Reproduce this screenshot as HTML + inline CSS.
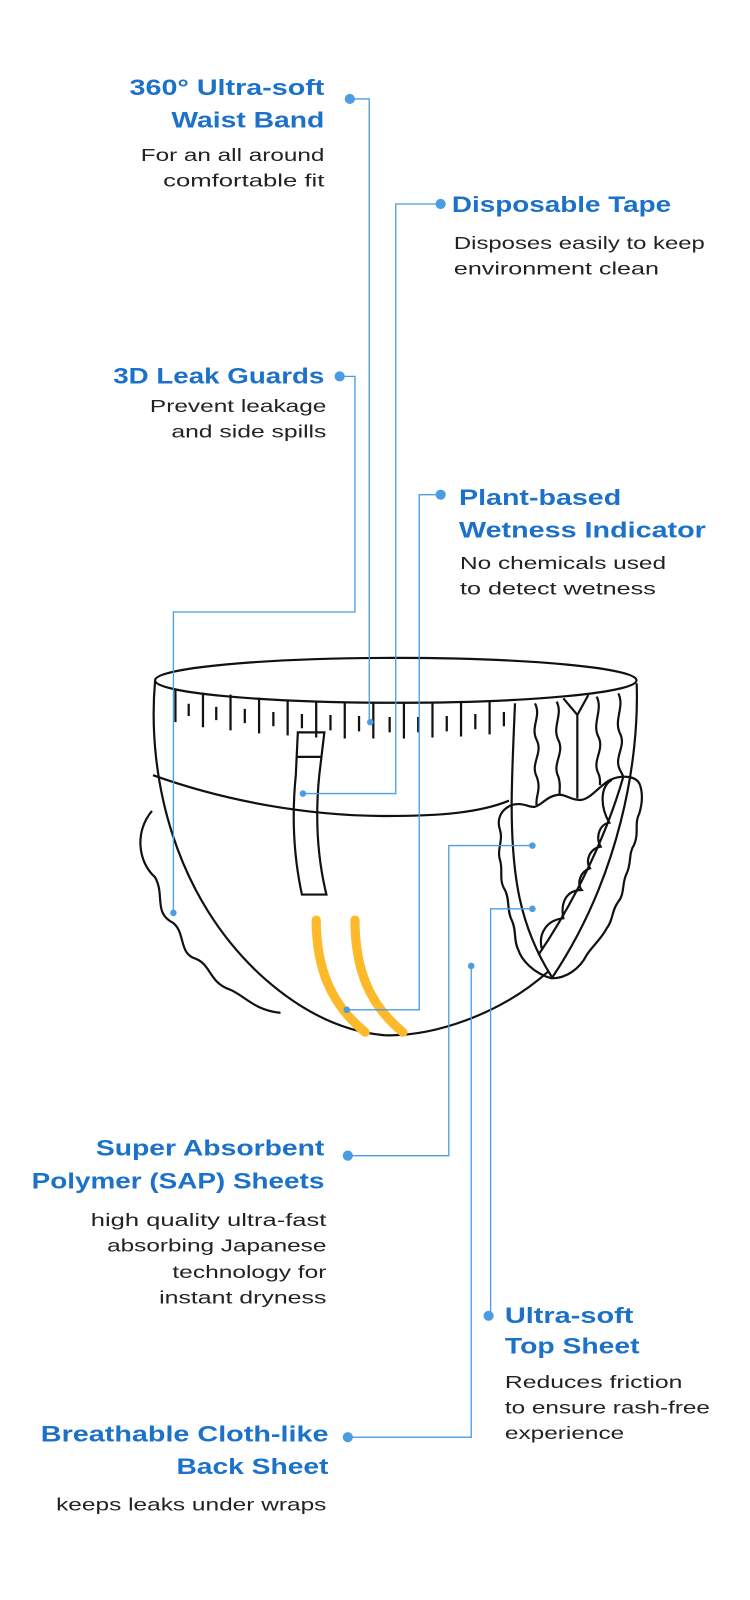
<!DOCTYPE html>
<html><head><meta charset="utf-8"><style>
html,body{margin:0;padding:0;background:#fff;width:750px;height:1600px;overflow:hidden}
svg{display:block}
.h{font-family:"Liberation Sans",sans-serif;font-weight:bold;font-size:22px;fill:#1c71c8}
.b{font-family:"Liberation Sans",sans-serif;font-size:17.5px;fill:#222}
.c{stroke:#4b9de3;stroke-width:1.3;fill:none}
.d{fill:#4b9de3}
.k{stroke:#111;stroke-width:2.2;fill:none;vector-effect:non-scaling-stroke}
</style></head><body>
<svg width="750" height="1600" viewBox="0 0 750 1600" xmlns="http://www.w3.org/2000/svg">
<g transform="scale(1.02)">
<!-- diaper body -->
<ellipse cx="388" cy="667" rx="236" ry="22" class="k" fill="#fff"/>
<path class="k" d="M152,668 C144,760 170,880 260,960 C300,995 340,1012 378,1015 C425,1016 490,995 538,952"/>
<path class="k" d="M149,795 C132,815 135,845 152,860 C162,878 150,895 170,905 C182,915 175,935 192,940 C207,946 205,963 225,970 C240,976 248,990 275,993"/>
<path class="k" d="M150,760 C220,785 300,800 380,800 C430,800 470,797 499,785"/>
<!-- tape -->
<path class="k" d="M292,718 L318,718 L313,760 C309,800 311,840 320,877 L296,877 C288,840 286,800 290,760 Z"/>
<path class="k" d="M290,742 L315,742"/>
<!-- ticks -->
<g class="k">
<path d="M172,676V708M185,690V702M199,679V713M212,693V706M226,681V716M240,695V709M254,684V719M268,698V712M282,686V721M296,700V714M310,687V723M324,701V716M338,688V724M352,702V717M366,689V724M382,703V718M396,689V724M410,703V718M424,689V723M438,702V717M452,688V722M466,700V715M480,687V720M494,698V712"/>
</g>
<!-- yellow indicator -->
<path d="M310,902 C310,950 325,985 358,1012" stroke="#fdb92a" stroke-width="9" stroke-linecap="round" fill="none"/>
<path d="M348,902 C348,950 362,985 395,1012" stroke="#fdb92a" stroke-width="9" stroke-linecap="round" fill="none"/>
</g>

<!-- right detail in zoom coords -->
<g transform="translate(480,660) scale(0.33333)">
<path class="k" d="M105,130 C100,250 95,350 95,435 C95,650 120,800 215,950"/>
<path class="k" d="M470,70 C478,300 420,650 215,955"/>
<path class="k" d="M175,885 C260,760 370,560 430,350"/>
<path class="k" d="M250,115 L292,165 L325,105 M292,165 L292,415"/>
<path class="k" d="M165,130 C185,170 150,200 170,240 C190,280 150,310 170,350 C185,390 165,410 170,435"/>
<path class="k" d="M230,125 C250,165 215,200 235,240 C255,280 215,310 235,350 C245,380 235,395 240,405"/>
<path class="k" d="M350,110 C370,150 335,190 355,230 C375,270 335,300 355,340 C360,350 360,360 360,375"/>
<path class="k" d="M415,100 C435,140 400,180 420,220 C440,260 400,290 420,330 C425,340 428,345 430,350"/>
<path class="k" d="M95,435 C130,425 150,445 165,440 C185,435 200,410 230,405 C255,400 270,420 300,420 C330,420 360,375 390,360 C420,345 470,345 480,375"/>
<path class="k" d="M95,435 C60,450 50,480 60,510 C70,540 50,570 60,600 C70,630 55,660 75,690 C90,720 80,750 95,780 C110,810 100,840 115,870 C125,900 160,940 215,955 C260,955 300,925 320,885 C340,855 365,835 380,805 C400,780 395,750 415,725 C435,700 425,670 440,640 C455,610 445,580 462,555 C478,520 462,490 478,460 C490,420 485,390 480,375"/>
<path class="k" d="M395,360 C360,380 360,440 388,488 C360,492 345,530 362,560 C330,565 315,600 330,625 C300,635 290,670 305,690 C265,690 240,720 250,775 C200,780 175,820 185,865"/>
</g>

<g transform="scale(1.02)">
<!-- connectors -->
<path class="c" d="M343,97 H362 V708"/><circle class="d" cx="343" cy="97" r="5"/><circle class="d" cx="363" cy="708" r="3.2"/>
<path class="c" d="M432,200 H388 V778 H297"/><circle class="d" cx="432" cy="200" r="5"/><circle class="d" cx="297" cy="778" r="3.2"/>
<path class="c" d="M333,369 H348 V600 H170 V895"/><circle class="d" cx="333" cy="369" r="5"/><circle class="d" cx="170" cy="895" r="3.2"/>
<path class="c" d="M432,485 H411 V990 H340"/><circle class="d" cx="432" cy="485" r="5"/><circle class="d" cx="340" cy="990" r="3.2"/>
<path class="c" d="M341,1133 H440 V829 H522"/><circle class="d" cx="341" cy="1133" r="5"/><circle class="d" cx="522" cy="829" r="3.2"/>
<path class="c" d="M481,1290 V891 H522"/><circle class="d" cx="479" cy="1290" r="5"/><circle class="d" cx="522" cy="891" r="3.2"/>
<path class="c" d="M341,1409 H462 V947"/><circle class="d" cx="341" cy="1409" r="5"/><circle class="d" cx="462" cy="947" r="3.2"/>

<!-- labels -->
<text class="h" x="127" y="93" textLength="191" lengthAdjust="spacingAndGlyphs">360° Ultra-soft</text>
<text class="h" x="168" y="125" textLength="150" lengthAdjust="spacingAndGlyphs">Waist Band</text>
<text class="b" x="138" y="158" textLength="180" lengthAdjust="spacingAndGlyphs">For an all around</text>
<text class="b" x="160" y="183" textLength="158" lengthAdjust="spacingAndGlyphs">comfortable fit</text>

<text class="h" x="443" y="208" textLength="215" lengthAdjust="spacingAndGlyphs">Disposable Tape</text>
<text class="b" x="445" y="244" textLength="246" lengthAdjust="spacingAndGlyphs">Disposes easily to keep</text>
<text class="b" x="445" y="269" textLength="201" lengthAdjust="spacingAndGlyphs">environment clean</text>

<text class="h" x="111" y="376" textLength="207" lengthAdjust="spacingAndGlyphs">3D Leak Guards</text>
<text class="b" x="147" y="404" textLength="173" lengthAdjust="spacingAndGlyphs">Prevent leakage</text>
<text class="b" x="168" y="429" textLength="152" lengthAdjust="spacingAndGlyphs">and side spills</text>

<text class="h" x="450" y="495" textLength="159" lengthAdjust="spacingAndGlyphs">Plant-based</text>
<text class="h" x="450" y="527" textLength="242" lengthAdjust="spacingAndGlyphs">Wetness Indicator</text>
<text class="b" x="451" y="558" textLength="202" lengthAdjust="spacingAndGlyphs">No chemicals used</text>
<text class="b" x="451" y="583" textLength="192" lengthAdjust="spacingAndGlyphs">to detect wetness</text>

<text class="h" x="94" y="1133" textLength="224" lengthAdjust="spacingAndGlyphs">Super Absorbent</text>
<text class="h" x="31" y="1165" textLength="287" lengthAdjust="spacingAndGlyphs">Polymer (SAP) Sheets</text>
<text class="b" x="89" y="1202" textLength="231" lengthAdjust="spacingAndGlyphs">high quality ultra-fast</text>
<text class="b" x="105" y="1227" textLength="215" lengthAdjust="spacingAndGlyphs">absorbing Japanese</text>
<text class="b" x="169" y="1253" textLength="151" lengthAdjust="spacingAndGlyphs">technology for</text>
<text class="b" x="156" y="1278" textLength="164" lengthAdjust="spacingAndGlyphs">instant dryness</text>

<text class="h" x="495" y="1297" textLength="126" lengthAdjust="spacingAndGlyphs">Ultra-soft</text>
<text class="h" x="495" y="1327" textLength="132" lengthAdjust="spacingAndGlyphs">Top Sheet</text>
<text class="b" x="495" y="1361" textLength="174" lengthAdjust="spacingAndGlyphs">Reduces friction</text>
<text class="b" x="495" y="1386" textLength="201" lengthAdjust="spacingAndGlyphs">to ensure rash-free</text>
<text class="b" x="495" y="1411" textLength="117" lengthAdjust="spacingAndGlyphs">experience</text>

<text class="h" x="40" y="1413" textLength="282" lengthAdjust="spacingAndGlyphs">Breathable Cloth-like</text>
<text class="h" x="173" y="1445" textLength="149" lengthAdjust="spacingAndGlyphs">Back Sheet</text>
<text class="b" x="55" y="1481" textLength="265" lengthAdjust="spacingAndGlyphs">keeps leaks under wraps</text>
</g>
</svg>
</body></html>
